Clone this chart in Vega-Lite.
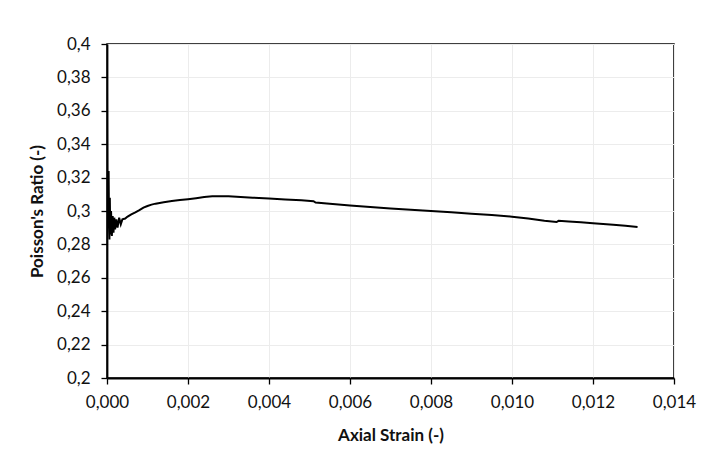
{
  "$schema": "https://vega.github.io/schema/vega-lite/v6.json",
  "width": 567,
  "height": 334,
  "autosize": {"type": "none"},
  "padding": {"left": 107, "top": 44, "right": 35, "bottom": 83},
  "background": "white",
  "config": {
    "font": "Lato",
    "view": {"stroke": "black", "strokeWidth": 1.5},
    "axis": {
      "domainColor": "black",
      "domainWidth": 1.8,
      "tickColor": "black",
      "tickWidth": 1.3,
      "tickSize": 6,
      "gridColor": "#ececec",
      "gridWidth": 1,
      "labelFont": "Lato",
      "labelFontSize": 17,
      "labelColor": "#111",
      "labelFlush": false,
      "titleFont": "Lato",
      "titleFontSize": 17,
      "titleFontWeight": "bold",
      "titleColor": "#111"
    }
  },
  "data": {
    "values": [
      {"strain": 0.0, "ratio": 0.372},
      {"strain": 0.00001, "ratio": 0.3},
      {"strain": 0.00003, "ratio": 0.316},
      {"strain": 0.00004, "ratio": 0.324},
      {"strain": 0.00005, "ratio": 0.29},
      {"strain": 0.00006, "ratio": 0.283},
      {"strain": 0.00007, "ratio": 0.308},
      {"strain": 0.00008, "ratio": 0.286},
      {"strain": 0.0001, "ratio": 0.3},
      {"strain": 0.00012, "ratio": 0.285},
      {"strain": 0.00014, "ratio": 0.297},
      {"strain": 0.00016, "ratio": 0.287},
      {"strain": 0.00018, "ratio": 0.296},
      {"strain": 0.0002, "ratio": 0.289},
      {"strain": 0.00023, "ratio": 0.295},
      {"strain": 0.00026, "ratio": 0.29},
      {"strain": 0.0003, "ratio": 0.296},
      {"strain": 0.00034, "ratio": 0.292},
      {"strain": 0.00038, "ratio": 0.295},
      {"strain": 0.00045, "ratio": 0.2955},
      {"strain": 0.0005, "ratio": 0.2965},
      {"strain": 0.0006, "ratio": 0.298},
      {"strain": 0.0007, "ratio": 0.2992},
      {"strain": 0.0008, "ratio": 0.3005},
      {"strain": 0.0009, "ratio": 0.302},
      {"strain": 0.001, "ratio": 0.303},
      {"strain": 0.0011, "ratio": 0.3038},
      {"strain": 0.0012, "ratio": 0.3044},
      {"strain": 0.0014, "ratio": 0.3053},
      {"strain": 0.0016, "ratio": 0.306},
      {"strain": 0.0018, "ratio": 0.3066},
      {"strain": 0.002, "ratio": 0.3071},
      {"strain": 0.0022, "ratio": 0.3077},
      {"strain": 0.0024, "ratio": 0.3084},
      {"strain": 0.0026, "ratio": 0.3088},
      {"strain": 0.0028, "ratio": 0.3089},
      {"strain": 0.003, "ratio": 0.3088},
      {"strain": 0.0033, "ratio": 0.3084},
      {"strain": 0.0036, "ratio": 0.308},
      {"strain": 0.004, "ratio": 0.3075},
      {"strain": 0.0044, "ratio": 0.3069},
      {"strain": 0.0048, "ratio": 0.3064},
      {"strain": 0.0051, "ratio": 0.3059},
      {"strain": 0.00515, "ratio": 0.3051},
      {"strain": 0.0055, "ratio": 0.3044},
      {"strain": 0.006, "ratio": 0.3033},
      {"strain": 0.0065, "ratio": 0.3024},
      {"strain": 0.007, "ratio": 0.3015},
      {"strain": 0.0075, "ratio": 0.3008},
      {"strain": 0.008, "ratio": 0.3},
      {"strain": 0.0085, "ratio": 0.2992},
      {"strain": 0.009, "ratio": 0.2984},
      {"strain": 0.0095, "ratio": 0.2976},
      {"strain": 0.01, "ratio": 0.2966},
      {"strain": 0.0104, "ratio": 0.2955},
      {"strain": 0.0108, "ratio": 0.2941},
      {"strain": 0.0111, "ratio": 0.2934},
      {"strain": 0.01115, "ratio": 0.2941},
      {"strain": 0.0114, "ratio": 0.2937},
      {"strain": 0.0117, "ratio": 0.2932},
      {"strain": 0.012, "ratio": 0.2926},
      {"strain": 0.0125, "ratio": 0.2918},
      {"strain": 0.0128, "ratio": 0.2912},
      {"strain": 0.0131, "ratio": 0.2904}
    ]
  },
  "mark": {"type": "line", "color": "black", "strokeWidth": 2, "clip": true},
  "encoding": {
    "x": {
      "field": "strain",
      "type": "quantitative",
      "scale": {"domain": [0, 0.014], "nice": false, "zero": false},
      "axis": {
        "title": "Axial Strain (-)",
        "values": [0, 0.002, 0.004, 0.006, 0.008, 0.01, 0.012, 0.014],
        "labelExpr": "replace(format(datum.value, '.3f'), '.', ',')",
        "labelPadding": 10,
        "titlePadding": 17
      }
    },
    "y": {
      "field": "ratio",
      "type": "quantitative",
      "scale": {"domain": [0.2, 0.4], "nice": false, "zero": false},
      "axis": {
        "title": "Poisson's  Ratio  (-)",
        "values": [0.2, 0.22, 0.24, 0.26, 0.28, 0.3, 0.32, 0.34, 0.36, 0.38, 0.4],
        "labelExpr": "replace(toString(round(datum.value * 100) / 100), '.', ',')",
        "labelPadding": 11,
        "titlePadding": 10
      }
    }
  }
}
